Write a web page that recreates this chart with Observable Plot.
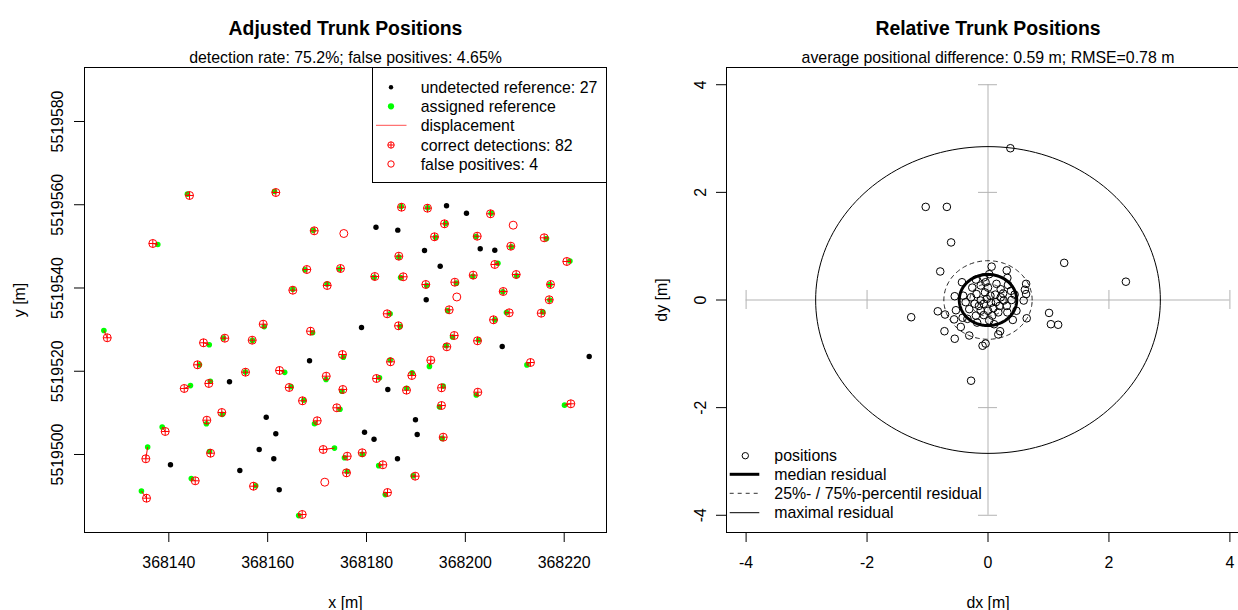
<!DOCTYPE html>
<html>
<head>
<meta charset="utf-8">
<script src="https://cdn.jsdelivr.net/npm/d3@7"></script>
<script src="https://cdn.jsdelivr.net/npm/@observablehq/plot@0.6"></script>
<style>
  html, body { margin: 0; padding: 0; background: #fff; overflow: hidden; }
  #wrap { position: relative; width: 1238px; height: 610px; overflow: hidden; background: #fff; }
  #left { position: absolute; left: 0; top: 0; width: 619px; height: 610px; }
  #right { position: absolute; left: 619px; top: 0; width: 640px; height: 610px; }
  #wrap svg { max-width: none !important; display: block; }
</style>
</head>
<body>
<div id="wrap"><div id="left"></div><div id="right"></div></div>
<script>
// ---- tick values ----
const xTicks = [368140, 368160, 368180, 368200, 368220];
const yTicks = [5519500, 5519520, 5519540, 5519560, 5519580];
const dTicks = [-4, -2, 0, 2, 4];
const crossTicks = [-4, -2, 2, 4];

// ---- correct detections: detected trunk position (easting / northing, m) ----
const detEast = [
  368144.19, 368161.65, 368136.76, 368169.42, 368167.92, 368174.74, 368181.68, 368172.05, 368165.09, 368187.08,
  368192.34, 368205.09, 368195.78, 368193.76, 368202.40, 368215.95, 368209.20, 368186.54, 368205.96, 368220.53,
  368187.43, 368201.59, 368210.29, 368192.00, 368197.87, 368217.23, 368207.66, 368216.97, 368184.19, 368196.73,
  368208.87, 368215.35, 368205.70, 368186.48, 368197.75, 368202.46, 368196.25, 368175.14, 368184.86, 368193.01,
  368213.18, 368182.02, 368189.17, 368188.09, 368195.18, 368202.52, 368175.21, 368173.99, 368195.18, 368221.34,
  368195.52, 368176.10, 368179.13, 368183.30, 368175.95, 368189.85, 368184.25, 368127.54, 368159.10, 368168.67,
  368147.02, 368151.33, 368156.87, 368145.81, 368155.52, 368162.40, 368143.12, 368148.09, 368171.85, 368164.36,
  368167.05, 368150.72, 368147.69, 368170.03, 368139.27, 368135.35, 368148.44, 368171.24, 368145.34, 368157.14,
  368135.49, 368166.99
];
const detNorth = [
  5519562.22, 5519562.94, 5519550.69, 5519553.74, 5519544.44, 5519544.68, 5519542.76, 5519540.60, 5519539.47, 5519559.41,
  5519559.17, 5519557.83, 5519555.42, 5519552.30, 5519552.44, 5519552.06, 5519550.04, 5519547.64, 5519545.65, 5519546.37,
  5519542.69, 5519543.08, 5519543.24, 5519540.84, 5519541.39, 5519540.84, 5519539.16, 5519537.17, 5519533.80, 5519534.76,
  5519534.04, 5519533.95, 5519532.36, 5519530.92, 5519528.59, 5519527.32, 5519525.87, 5519524.02, 5519522.27, 5519522.66,
  5519522.10, 5519518.26, 5519518.98, 5519515.45, 5519516.02, 5519514.97, 5519515.62, 5519511.22, 5519511.77, 5519512.18,
  5519504.16, 5519499.59, 5519500.41, 5519497.53, 5519495.60, 5519494.79, 5519490.87, 5519528.04, 5519531.30, 5519529.62,
  5519526.84, 5519527.94, 5519527.46, 5519521.55, 5519519.77, 5519520.18, 5519515.86, 5519517.06, 5519518.81, 5519516.10,
  5519512.90, 5519510.09, 5519508.24, 5519508.10, 5519505.53, 5519498.97, 5519500.31, 5519501.20, 5519493.68, 5519492.38,
  5519489.50, 5519485.59
];
// residual = assigned reference minus detection (m)
const resDx = [
  -0.43, -0.26, 1.01, -0.19, -0.37, -0.15, -0.12, -0.04, 0.00, -0.05,
  0.04, 0.12, 0.21, 0.19, -0.22, 0.47, 0.09, 0.00, 0.63, 0.63,
  -0.53, -0.07, 0.07, 0.17, 0.32, -0.12, -0.07, 0.13, 0.59, -0.31,
  -0.55, 0.33, 0.26, 0.31, -0.34, 0.21, -0.12, 0.17, -0.07, -0.28,
  -0.72, 0.61, 0.06, 0.02, 0.32, -0.31, -0.18, 0.64, -0.42, -1.27,
  -0.20, -0.56, 0.02, -0.83, 0.14, -0.41, -0.45, -0.68, 0.20, 0.41,
  1.16, -0.28, 0.05, 0.39, -0.02, 1.04, 1.26, 0.31, -0.04, 0.38,
  0.25, 0.10, -0.09, -0.55, -0.61, 0.37, -0.20, 2.28, -0.79, 0.44,
  -1.03, -0.71
];
const resDy = [
  0.33, 0.23, -0.24, 0.11, -0.04, -0.11, -0.20, 0.33, 0.23, 0.14,
  0.08, 0.10, 0.05, -0.11, -0.07, -0.20, -0.15, -0.20, 0.30, 0.11,
  -0.19, -0.28, -0.29, -0.23, -0.23, -0.01, -0.07, -0.04, -0.01, -0.17,
  0.07, 0.28, -0.01, -0.11, -0.35, 0.20, 0.27, -0.64, 0.42, -1.50,
  -0.58, 0.19, 0.62, 0.48, 0.41, -0.66, -0.42, -0.34, -0.33, -0.32,
  -0.29, -0.36, -0.38, -0.21, 0.30, 0.08, -0.50, 1.73, -0.58, -0.37,
  -0.46, 0.05, -0.05, 0.00, 0.02, -0.45, 0.69, 0.55, -0.81, 0.17,
  0.12, -0.45, -0.85, -0.72, 1.07, 2.82, 0.38, 0.34, 0.53, 0.10,
  1.73, -0.27
];

// ---- reference trunks without a detection ----
const undetEast = [
  368181.92, 368196.19, 368200.23, 368186.33, 368191.74, 368203.01, 368205.96, 368194.91, 368192.08, 368178.99,
  368207.46, 368168.47, 368225.06, 368152.28, 368184.31, 368159.71, 368189.91, 368161.65, 368179.60, 368181.52,
  368190.26, 368158.29, 368161.24, 368186.27, 368140.34, 368154.37, 368162.34
];
const undetNorth = [
  5519554.61, 5519559.75, 5519557.97, 5519553.89, 5519549.01, 5519549.42, 5519549.08, 5519545.24, 5519537.17, 5519530.51,
  5519525.95, 5519522.51, 5519523.54, 5519517.47, 5519515.62, 5519508.96, 5519508.34, 5519504.97, 5519505.36, 5519503.68,
  5519504.80, 5519501.20, 5519498.97, 5519498.97, 5519497.53, 5519496.16, 5519491.52
];

// ---- detections without a reference ----
const fpEast = [368175.41, 368209.68, 368198.27, 368171.56];
const fpNorth = [5519553.09, 5519555.09, 5519537.84, 5519493.35];

// ---- residual circles: 25% quantile, median, 75% quantile, maximum (m) ----
const residualRadii = [0.30, 0.475, 0.73, 2.85];

// ---- derived tables ----
const correct = detEast.map((x, i) => ({
  x, y: detNorth[i],
  rx: x + resDx[i], ry: detNorth[i] + resDy[i],
  dx: resDx[i], dy: resDy[i]
}));
const undetected = undetEast.map((x, i) => ({x, y: undetNorth[i]}));
const falsePos = fpEast.map((x, i) => ({x, y: fpNorth[i]}));

const nCorrect = correct.length, nUndet = undetected.length, nFP = falsePos.length;
const leftTitle = "Adjusted Trunk Positions";
const leftSubtitle = `detection rate: ${(100 * nCorrect / (nCorrect + nUndet)).toFixed(1)}%; false positives: ${(100 * nFP / (nCorrect + nFP)).toFixed(2)}%`;
const rightTitle = "Relative Trunk Positions";
const rightSubtitle = "average positional difference: 0.59 m; RMSE=0.78 m";

const FONT = "'Liberation Sans', Arial, Helvetica, sans-serif";
const FS = 15.9;
const GREY = "#b3b3b3";
const MID = {textAnchor: "middle", lineAnchor: "middle"};

// circle with a cross inside
const circlePlus = {
  draw(ctx, size) {
    const r = Math.sqrt(size / Math.PI);
    ctx.moveTo(r, 0);
    ctx.arc(0, 0, r, 0, 2 * Math.PI);
    ctx.moveTo(-r, 0); ctx.lineTo(r, 0);
    ctx.moveTo(0, -r); ctx.lineTo(0, r);
  }
};

const ring = r => d3.range(0, 361, 2).map(a => ({dx: r * Math.cos(a * Math.PI / 180), dy: r * Math.sin(a * Math.PI / 180)}));

// shared axis, label and title marks for one panel
function frameTexts(xt, yt, xLabel, yLabel, title, subtitle, ydx) {
  return [
    Plot.axisX({ticks: xt, tickSize: 10, tickFormat: () => "", label: null}),
    Plot.axisY({ticks: yt, tickSize: 10, tickFormat: () => "", label: null}),
    Plot.text(xt, {x: d => d, text: d => String(d), frameAnchor: "bottom", dy: 30.5, fontSize: FS, ...MID}),
    Plot.text(yt, {y: d => d, text: d => String(d), frameAnchor: "left", dx: ydx, rotate: -90, fontSize: FS, ...MID}),
    Plot.text([xLabel], {text: d => d, frameAnchor: "bottom", dy: 70, fontSize: FS, ...MID}),
    Plot.text([yLabel], {text: d => d, frameAnchor: "left", dx: -65, rotate: -90, fontSize: FS, ...MID}),
    Plot.text([title], {text: d => d, frameAnchor: "top", dy: -39, fontSize: 19.4, fontWeight: "bold", ...MID}),
    Plot.text([subtitle], {text: d => d, frameAnchor: "top", dy: -10, fontSize: FS, ...MID})
  ];
}

// ---- left panel: positions in map coordinates ----
const leftChart = Plot.plot({
  width: 619, height: 610,
  marginLeft: 84, marginRight: 13, marginTop: 67, marginBottom: 78,
  x: {domain: [368122.94, 368228.56]},
  y: {domain: [5519481.26, 5519592.97]},
  style: {fontFamily: FONT, fontSize: FS + "px", background: "white", color: "black"},
  marks: [
    ...frameTexts(xTicks, yTicks, "x [m]", "y [m]", leftTitle, leftSubtitle, -26.5),
    Plot.dot(undetected, {x: "x", y: "y", r: 2.7, fill: "black"}),
    Plot.dot(correct, {x: "rx", y: "ry", r: 2.8, fill: "#00ff00"}),
    Plot.link(correct, {x1: "x", y1: "y", x2: "rx", y2: "ry", stroke: "#ff0000", strokeWidth: 1}),
    Plot.dot(correct, {x: "x", y: "y", r: 4, symbol: circlePlus, fill: "none", stroke: "#ff0000", strokeWidth: 1}),
    Plot.dot(falsePos, {x: "x", y: "y", r: 4, fill: "none", stroke: "#ff0000", strokeWidth: 1}),
    Plot.frame({stroke: "black"})
  ]
});
document.getElementById("left").appendChild(leftChart);

// legend of the left panel
{
  const g = d3.select(leftChart).append("g")
    .attr("font-family", FONT).attr("font-size", FS).attr("text-anchor", "start");
  g.append("rect").attr("x", 372.5).attr("y", 67.5).attr("width", 234).attr("height", 115)
    .attr("fill", "white").attr("stroke", "black");
  const rows = [87.3, 106.3, 125.3, 145, 164];
  const labels = [
    `undetected reference: ${nUndet}`,
    "assigned reference",
    "displacement",
    `correct detections: ${nCorrect}`,
    `false positives: ${nFP}`
  ];
  const sx = 391;
  g.append("circle").attr("cx", sx).attr("cy", rows[0]).attr("r", 2.2).attr("fill", "black");
  g.append("circle").attr("cx", sx).attr("cy", rows[1]).attr("r", 3.1).attr("fill", "#00ff00");
  g.append("line").attr("x1", 376).attr("x2", 406.5).attr("y1", rows[2]).attr("y2", rows[2]).attr("stroke", "#ff5050");
  const cp = d3.path(); circlePlus.draw(cp, Math.PI * 3.2 * 3.2);
  g.append("path").attr("d", cp.toString()).attr("transform", `translate(${sx},${rows[3]})`)
    .attr("fill", "none").attr("stroke", "#ff0000");
  g.append("circle").attr("cx", sx).attr("cy", rows[4]).attr("r", 3.2).attr("fill", "none").attr("stroke", "#ff0000");
  labels.forEach((t, i) => g.append("text").attr("x", 420.7).attr("y", rows[i] + 5.5).attr("text-anchor", "start").text(t));
}

// ---- right panel: residuals relative to the reference ----
const rightChart = Plot.plot({
  width: 640, height: 610,
  marginLeft: 107, marginRight: 10, marginTop: 67, marginBottom: 78,
  x: {domain: [-4.324, 4.324]},
  y: {domain: [-4.32, 4.32]},
  style: {fontFamily: FONT, fontSize: FS + "px", background: "white", color: "black"},
  marks: [
    ...frameTexts(dTicks, dTicks, "dx [m]", "dy [m]", rightTitle, rightSubtitle, -26),
    // grey cross with end bars
    Plot.ruleY([0], {x1: -4, x2: 4, stroke: GREY, strokeWidth: 1}),
    Plot.ruleX([0], {y1: -4, y2: 4, stroke: GREY, strokeWidth: 1}),
    Plot.ruleX(crossTicks, {x: d => d, y1: -0.177, y2: 0.177, stroke: GREY, strokeWidth: 1}),
    Plot.ruleY(crossTicks, {y: d => d, x1: -0.157, x2: 0.157, stroke: GREY, strokeWidth: 1}),
    Plot.dot(correct, {x: "dx", y: "dy", r: 3.8, fill: "none", stroke: "black", strokeWidth: 1}),
    Plot.line(ring(residualRadii[0]), {x: "dx", y: "dy", stroke: "#222", strokeWidth: 1, strokeDasharray: "4,4"}),
    Plot.line(ring(residualRadii[2]), {x: "dx", y: "dy", stroke: "#222", strokeWidth: 1, strokeDasharray: "4,4"}),
    Plot.line(ring(residualRadii[1]), {x: "dx", y: "dy", stroke: "black", strokeWidth: 3}),
    Plot.line(ring(residualRadii[3]), {x: "dx", y: "dy", stroke: "black", strokeWidth: 1}),
    Plot.frame({stroke: "black"})
  ]
});
document.getElementById("right").appendChild(rightChart);

// legend of the right panel
{
  const off = 619;
  const g = d3.select(rightChart).append("g")
    .attr("font-family", FONT).attr("font-size", FS).attr("text-anchor", "start");
  const rows = [455.7, 474.3, 493.3, 512.7];
  const labels = ["positions", "median residual", "25%- / 75%-percentil residual", "maximal residual"];
  const x1 = 729.7 - off, x2 = 759.3 - off;
  g.append("circle").attr("cx", 745.3 - off).attr("cy", rows[0]).attr("r", 3.2).attr("fill", "none").attr("stroke", "black");
  g.append("line").attr("x1", x1).attr("x2", x2).attr("y1", rows[1]).attr("y2", rows[1]).attr("stroke", "black").attr("stroke-width", 3);
  g.append("line").attr("x1", x1).attr("x2", x2).attr("y1", rows[2]).attr("y2", rows[2]).attr("stroke", "#333").attr("stroke-dasharray", "4,4");
  g.append("line").attr("x1", x1).attr("x2", x2).attr("y1", rows[3]).attr("y2", rows[3]).attr("stroke", "black");
  labels.forEach((t, i) => g.append("text").attr("x", 774.3 - off).attr("y", rows[i] + 5.5).attr("text-anchor", "start").text(t));
}
</script>
</body>
</html>
